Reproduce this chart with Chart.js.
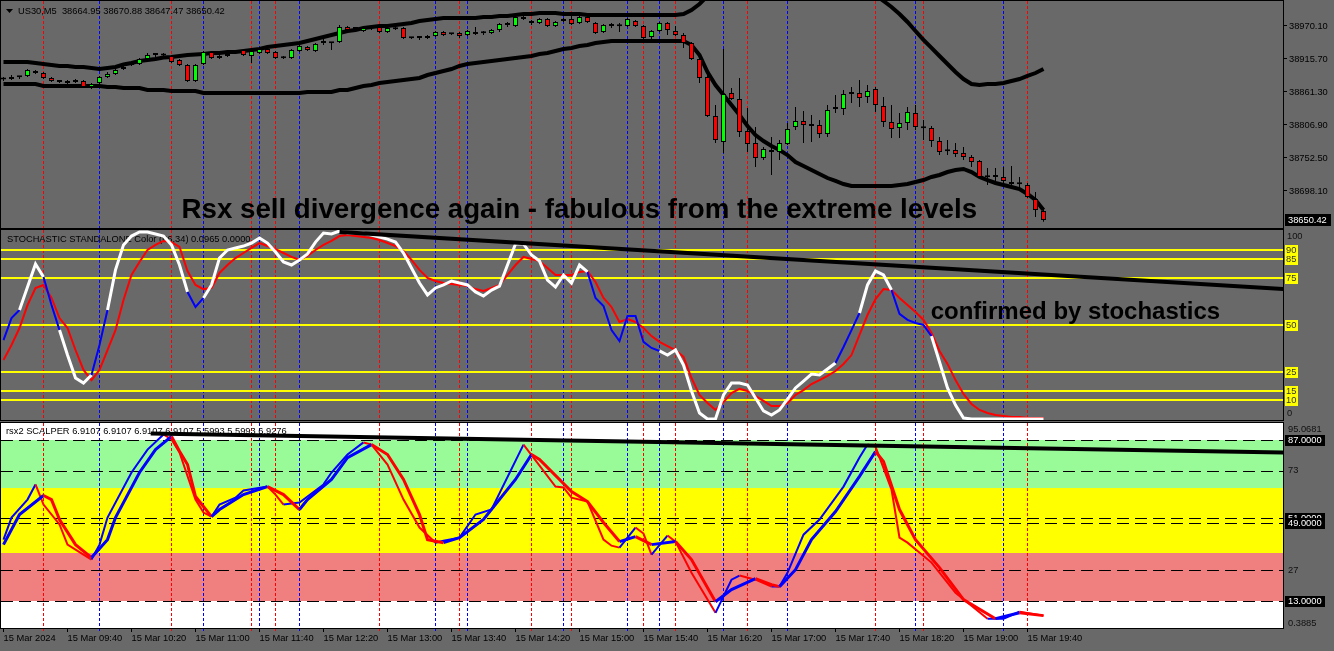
<!DOCTYPE html>
<html><head><meta charset="utf-8">
<script src="https://cdn.jsdelivr.net/npm/chart.js@4.4.1/dist/chart.umd.min.js"></script>
<style>
html,body{margin:0;padding:0;background:#696969;width:1334px;height:651px;overflow:hidden;}
.p{position:absolute;left:0;width:1334px;}
#a{top:0;height:229px;} #b{top:229px;height:192px;} #c{top:421px;height:230px;}
</style></head><body>
<div class="p" id="a"><canvas id="ca"></canvas></div>
<div class="p" id="b"><canvas id="cb"></canvas></div>
<div class="p" id="c"><canvas id="cc"></canvas></div>
<script>
// ---------------- DATA ----------------
const symbolTitle = "US30,M5  38664.95 38670.88 38647.47 38650.42";
const stochTitle = "STOCHASTIC STANDALONE Color (66,34) 0.0965 0.0000";
const rsxTitle = "rsx2 SCALPER 6.9107 6.9107 6.9107 6.9107 5.5993 5.5993 6.9276";
const note1 = "Rsx sell divergence again - fabulous from the extreme levels";
const note2 = "confirmed by stochastics";

const timeLabelIdx = [0,8,16,24,32,40,48,56,64,72,80,88,96,104,112,120,128];
const timeLabels = ["15 Mar 2024","15 Mar 09:40","15 Mar 10:20","15 Mar 11:00","15 Mar 11:40","15 Mar 12:20","15 Mar 13:00","15 Mar 13:40","15 Mar 14:20","15 Mar 15:00","15 Mar 15:40","15 Mar 16:20","15 Mar 17:00","15 Mar 17:40","15 Mar 18:20","15 Mar 19:00","15 Mar 19:40"];

const open = [
38882.7,38882.7,38886.0,38887.7,38895.9,38892.6,38884.4,38879.4,38876.1,38877.8,
38879.4,38869.5,38876.1,38886.0,38891.0,38899.2,38905.8,38907.5,38915.7,38922.3,
38921.5,38920.7,38914.1,38905.8,38879.4,38907.5,38927.2,38917.4,38920.7,38925.6,
38930.5,38920.7,38925.6,38932.2,38927.2,38917.4,38917.4,38928.9,38935.5,38928.9,
38942.1,38942.1,38943.8,38968.5,38965.2,38961.9,38966.8,38968.5,38960.2,38965.2,
38966.8,38950.4,38950.4,38950.4,38953.7,38960.2,38957.0,38958.6,38955.3,38960.2,
38958.6,38958.6,38963.5,38971.8,38970.1,38984.9,38978.3,38975.1,38981.6,38970.1,
38978.3,38981.6,38975.1,38984.9,38975.1,38960.2,38970.1,38970.1,38970.1,38978.3,
38970.1,38952.0,38961.9,38975.1,38961.9,38955.3,38942.1,38915.7,38886.0,38821.7,
38778.9,38859.6,38849.8,38797.0,38777.2,38752.5,38765.7,38762.4,38775.6,38803.6,
38813.5,38808.5,38806.9,38792.1,38833.3,38833.3,38858.0,38859.6,38853.1,38866.2,
38838.2,38811.8,38802.0,38810.2,38826.7,38802.0,38802.0,38780.5,38764.0,38765.7,
38760.7,38754.2,38747.6,38721.2,38721.2,38721.2,38712.9,38709.6,38708.0,38684.9,
38664.95];
const high = [
38886.0,38889.3,38887.7,38899.2,38897.6,38894.3,38886.0,38881.1,38881.1,38882.7,
38881.1,38876.1,38887.7,38894.3,38899.2,38905.8,38910.8,38917.4,38925.6,38925.6,
38925.6,38922.3,38915.7,38907.5,38907.5,38928.9,38928.9,38922.3,38925.6,38930.5,
38932.2,38930.5,38933.9,38935.5,38928.9,38920.7,38932.2,38938.8,38937.2,38942.1,
38950.4,38943.8,38971.8,38970.1,38966.8,38968.5,38968.5,38970.1,38968.5,38971.8,
38968.5,38952.0,38953.7,38955.3,38961.9,38961.9,38958.6,38960.2,38963.5,38968.5,
38961.9,38965.2,38975.1,38976.7,38986.6,38986.6,38980.0,38983.3,38983.3,38978.3,
38983.3,38986.6,38988.2,38988.2,38976.7,38973.4,38975.1,38975.1,38983.3,38980.0,
38971.8,38963.5,38976.7,38976.7,38970.1,38958.6,38943.8,38917.4,38894.3,38839.9,
38932.2,38867.9,38884.4,38834.9,38803.6,38770.6,38787.1,38782.2,38810.2,38836.6,
38830.0,38823.4,38815.1,38839.9,38856.4,38864.6,38869.5,38881.1,38872.8,38869.5,
38853.1,38839.9,38826.7,38836.6,38839.9,38815.1,38805.3,38787.1,38782.2,38777.2,
38770.6,38757.4,38749.2,38736.0,38736.0,38737.7,38739.3,38721.2,38711.3,38696.5,
38670.88];
const low = [
38879.4,38881.1,38882.7,38886.0,38891.0,38882.7,38877.8,38876.1,38874.5,38876.1,
38867.9,38866.2,38874.5,38884.4,38889.3,38897.6,38904.2,38905.8,38914.1,38919.0,
38919.0,38909.1,38904.2,38877.8,38877.8,38905.8,38915.7,38915.7,38919.0,38924.0,
38920.7,38909.1,38924.0,38924.0,38915.7,38915.7,38915.7,38927.2,38928.9,38927.2,
38938.8,38930.5,38942.1,38961.9,38963.5,38960.2,38963.5,38958.6,38958.6,38963.5,
38948.7,38948.7,38947.1,38948.7,38952.0,38953.7,38955.3,38950.4,38953.7,38955.3,
38955.3,38957.0,38960.2,38968.5,38968.5,38980.0,38971.8,38973.4,38968.5,38968.5,
38976.7,38971.8,38973.4,38975.1,38957.0,38958.6,38966.8,38960.2,38968.5,38968.5,
38947.1,38947.1,38960.2,38955.3,38953.7,38933.9,38914.1,38876.1,38820.1,38777.2,
38760.7,38848.1,38787.1,38762.4,38737.7,38749.2,38724.5,38749.2,38773.9,38798.7,
38777.2,38778.9,38785.5,38787.1,38826.7,38823.4,38843.2,38836.6,38843.2,38828.3,
38803.6,38785.5,38785.5,38798.7,38798.7,38782.2,38770.6,38757.4,38757.4,38754.2,
38749.2,38737.7,38719.5,38708.0,38712.9,38708.0,38704.7,38703.1,38686.6,38655.2,
38647.47];
const close = [
38882.0,38886.0,38885.6,38897.6,38892.6,38884.4,38879.4,38877.8,38879.4,38881.1,
38869.5,38874.5,38886.0,38891.0,38897.6,38902.5,38909.1,38915.7,38922.3,38922.8,
38922.0,38910.8,38905.8,38879.4,38905.8,38927.2,38917.4,38920.7,38924.0,38928.9,
38922.3,38928.9,38932.2,38925.6,38917.4,38917.0,38930.5,38937.2,38930.5,38940.5,
38942.5,38941.7,38968.5,38963.5,38965.6,38966.8,38966.4,38960.2,38966.8,38964.8,
38950.4,38950.0,38950.8,38953.7,38960.2,38955.3,38956.6,38953.7,38961.9,38957.0,
38958.2,38963.5,38973.4,38972.2,38984.9,38981.6,38975.1,38981.6,38970.1,38976.7,
38981.6,38973.4,38984.9,38976.7,38958.6,38971.8,38970.5,38969.7,38981.6,38970.1,
38950.4,38961.9,38975.1,38963.5,38955.3,38942.1,38915.7,38884.4,38821.7,38782.2,
38858.0,38849.8,38795.4,38775.6,38752.5,38767.3,38762.4,38777.2,38800.3,38813.5,
38806.9,38805.3,38792.1,38831.6,38833.7,38858.0,38858.4,38851.4,38862.9,38839.9,
38811.8,38800.3,38810.2,38828.3,38803.6,38801.6,38780.5,38762.4,38763.6,38759.1,
38754.2,38745.9,38721.2,38720.8,38721.6,38714.6,38709.6,38709.2,38688.2,38666.8,
38650.42];
const upperBand = [
38910.8,38910.8,38910.8,38910.8,38909.1,38907.5,38905.8,38904.2,38904.2,38902.5,
38902.5,38900.9,38899.2,38900.9,38902.5,38906.6,38909.1,38912.4,38914.1,38915.7,
38918.2,38919.0,38920.7,38922.3,38923.1,38924.0,38925.6,38925.6,38927.2,38927.2,
38928.9,38930.5,38932.2,38935.5,38937.2,38938.8,38940.5,38942.1,38945.4,38948.7,
38952.0,38955.3,38958.6,38961.9,38963.5,38966.8,38968.5,38970.1,38970.1,38971.8,
38973.4,38975.1,38978.3,38980.0,38981.6,38983.3,38983.3,38983.3,38983.3,38983.3,
38984.9,38984.9,38986.6,38986.6,38988.2,38989.9,38989.9,38991.5,38991.5,38991.5,
38989.9,38989.9,38989.9,38988.2,38988.2,38988.2,38988.2,38988.2,38988.2,38988.2,
38988.2,38988.2,38988.2,38988.2,38988.2,38989.9,38996.5,39006.4,39019.6,39032.7,
39045.9,39059.1,39072.3,39085.5,39098.7,39108.6,39118.5,39125.1,39128.4,39128.4,
39125.1,39118.5,39108.6,39098.7,39085.5,39072.3,39059.1,39045.9,39032.7,39021.2,
39011.3,39001.4,38989.9,38976.7,38961.9,38947.1,38933.9,38920.7,38907.5,38894.3,
38882.7,38874.5,38872.8,38874.5,38874.5,38876.1,38879.4,38882.7,38887.7,38892.6,
38899.2];
const lowerBand = [
38874.5,38874.5,38874.5,38874.5,38874.5,38871.2,38871.2,38871.2,38871.2,38871.2,
38871.2,38871.2,38871.2,38869.5,38869.5,38867.9,38867.9,38867.9,38864.6,38864.6,
38864.6,38862.9,38862.9,38862.9,38862.9,38859.6,38859.6,38859.6,38859.6,38859.6,
38859.6,38859.6,38859.6,38859.6,38859.6,38859.6,38859.6,38859.6,38861.3,38861.3,
38861.3,38861.3,38864.6,38864.6,38867.9,38871.2,38872.8,38876.1,38877.8,38879.4,
38881.1,38882.7,38884.4,38889.3,38892.6,38895.9,38899.2,38904.2,38907.5,38909.1,
38910.8,38912.4,38914.1,38915.7,38917.4,38919.0,38920.7,38924.0,38925.6,38928.9,
38932.2,38933.9,38937.2,38938.8,38942.1,38943.8,38945.4,38945.4,38945.4,38945.4,
38945.4,38945.4,38945.4,38945.4,38945.4,38945.4,38938.8,38922.3,38894.3,38872.8,
38856.4,38839.9,38823.4,38805.3,38790.4,38780.5,38772.3,38765.7,38757.4,38745.9,
38739.3,38732.7,38726.1,38719.5,38714.6,38709.6,38706.3,38706.3,38706.3,38706.3,
38706.3,38706.3,38708.0,38709.6,38712.9,38716.2,38721.2,38724.5,38729.4,38732.7,
38734.4,38729.4,38721.2,38716.2,38711.3,38708.0,38704.7,38701.4,38693.2,38683.3,
38666.8];
const priceTicks = [38970.10,38915.70,38861.30,38806.90,38752.50,38698.10];

const stochMain = [
42.0,53.7,58.0,70.2,82.4,75.5,60.6,47.3,34.0,21.8,
19.1,23.4,39.4,58.0,79.3,92.6,97.3,99.5,99.5,98.4,
97.3,92.6,81.9,67.6,59.6,64.4,71.3,85.6,89.9,91.0,
92.0,93.6,96.3,93.6,88.8,83.5,81.9,84.6,87.8,94.1,
98.9,98.4,100,98.9,98.9,98.9,97.9,96.8,95.7,94.1,
88.3,80.3,72.3,66.0,69.7,71.3,73.4,72.3,71.3,67.6,
65.4,68.6,70.7,81.9,93.1,93.1,87.2,84.0,73.9,70.2,
76.6,72.3,81.9,78.2,64.4,60.1,47.3,41.5,54.8,54.8,
41.0,37.8,36.2,34.0,36.7,28.7,14.9,3.2,0,0,
12.8,19.1,19.1,18.1,11.2,4.3,2.1,4.8,10.6,16.5,
20.2,23.9,23.4,26.6,29.8,38.3,47.3,56.4,71.3,78.7,
76.6,68.6,55.9,52.7,51.1,50.0,44.1,30.3,16.5,7.4,
0.5,0,0,0,0,0,0,0,0,0,
0];
const stochSignal = [
31.4,39.4,48.4,60.6,69.7,71.3,64.4,53.7,48.4,36.7,
26.1,20.7,26.1,36.7,47.3,63.3,76.6,83.5,89.9,92.6,
94.7,94.1,91.5,78.7,71.3,69.1,69.7,77.7,81.9,85.6,
88.3,91.0,93.6,92.0,90.4,88.3,86.2,84.6,86.7,89.9,
92.6,94.7,97.3,97.9,97.3,96.8,96.3,95.2,93.6,92.0,
89.4,84.6,79.3,75.0,73.4,72.3,71.8,71.3,70.7,69.1,
68.1,69.7,71.3,76.6,81.9,86.2,85.1,84.0,80.3,76.6,
76.6,76.6,78.2,78.7,72.9,64.4,59.6,51.6,53.2,51.6,
48.4,44.1,41.0,38.8,36.7,33.0,21.8,12.8,8.5,4.8,
9.0,13.8,16.0,14.9,12.2,9.6,6.9,6.9,8.5,12.8,
15.4,18.6,20.7,22.9,25.5,29.3,34.0,44.7,55.3,63.8,
69.1,68.6,64.4,60.6,56.9,52.7,45.7,36.2,29.3,20.7,
13.3,8.0,4.8,3.2,2.1,1.6,1.1,1.1,0.5,0.5,
0.5];
const stochBlueRanges = [[0,2],[5,7],[11,13],[23,25],[73,82],[104,107],[111,116]];
const stochLevels = [90,85,75,50,25,15,10];
const stochAxisLabels = [100,0];
const stochTrendX = [42,160];
const stochTrendY = [99.5,69.1];

const rsxFastX = [0,1,3,4,5,7,8,10,11,12,13,16,18,20,21,22,24,25,26,27,29,30,33,34,35,37,40,41,43,45,46,48,50,52,54,55,57,59,61,65,69,70,71,73,75,76,77,79,80,81,83,84,86,89,91,92,94,96,97,98,100,102,105,107,108,109,111,112,113,116,119,123,125,127,130];
const rsxFastY = [41.2,51.4,59.7,66.7,57.4,48.2,38.9,34.3,32.0,38.9,51.4,72.2,82.8,89.8,87.5,81.5,59.7,53.7,51.8,57.4,60.6,63.9,65.7,62.0,57.4,58.3,66.7,72.2,80.5,86.1,85.1,75.9,59.7,46.8,39.8,40.7,42.1,52.8,55.1,85.1,65.7,65.3,60.6,58.8,41.2,38.4,37.5,46.8,44.0,34.3,43.1,40.3,25.9,7.4,22.7,24.6,22.7,19.5,19.5,25.9,43.5,50.5,65.7,79.1,85.1,84.2,64.3,42.1,39.8,30.6,16.7,4.7,4.7,7.9,6.1];
const rsxSlowX = [0,2,5,6,7,9,11,13,14,17,19,21,22,23,24,26,27,30,33,35,37,38,41,43,46,48,50,52,53,55,57,60,64,66,67,71,73,75,77,79,81,84,86,89,91,94,96,97,99,101,104,107,109,110,112,114,117,120,124,127,130];
const rsxSlowY = [38.9,52.8,61.6,59.7,50.5,38.9,32.9,41.2,51.4,72.2,82.8,88.9,82.0,75.9,61.1,51.8,55.1,62.0,65.7,62.0,55.1,59.7,69.0,79.1,85.1,80.5,69.0,52.8,41.2,39.8,42.1,50.5,69.0,80.5,78.2,63.4,58.8,49.1,40.3,42.6,38.9,40.3,32.0,12.5,18.1,23.2,20.4,19.5,27.3,41.2,54.2,70.4,81.9,77.3,55.1,41.2,28.3,13.5,4.7,7.4,6.1];
const rsxZoneEdges = [87,65,35,13];
const rsxDashLevels = [87,73,51,49,27,13];
const rsxAxisPlain = ["95.0681","73","27","0.3885"];
const rsxAxisBoxed = [87,51,49,13];
const rsxRange = [0.3885,95.0681];
const rsxTrendX = [18.4,160];
const rsxTrendY = [90.2,81.4];

const redLines = [5,21,31,34,47,57,66,71,80,84,93,109,115,128];
const blueLines = [12,25,32,37,54,58,70,78,82,90,98,114,125];

// ---------------- STYLE / LAYOUT ----------------
const FONT = "Liberation Sans";
const SMALL = '9.3px ' + FONT;
Chart.defaults.font.family = FONT;
Chart.defaults.font.size = 9.3;
const xMin = -0.3125, xMax = 159.9375;
const idx = open.map((_, i) => i);
const AXW = 51;

function xScale(display) {
  return {type:'linear', min:xMin, max:xMax, display, offset:false, grid:{display:false}, border:{display:false}};
}
function yAfterFit(s){ s.width = AXW; s.paddingTop = 0; s.paddingBottom = 0; }
function baseOptions(pad) {
  return {responsive:true, maintainAspectRatio:false, animation:false, devicePixelRatio:1, events:[],
    layout:{padding:pad}, plugins:{legend:{display:false}, tooltip:{enabled:false}}};
}
function drawVLines(chart, extra) {
  const {ctx, chartArea:a, scales:{x}} = chart;
  ctx.save(); ctx.lineWidth = 1; ctx.setLineDash([3,2]);
  [[redLines,'#ff0000'],[blueLines,'#0000ff']].forEach(([arr,c]) => {
    ctx.strokeStyle = c;
    arr.forEach(i => { const px = Math.round(x.getPixelForValue(i) - 0.5) + 0.5;
      ctx.beginPath(); ctx.moveTo(px, a.top); ctx.lineTo(px, a.bottom + extra); ctx.stroke(); });
  });
  ctx.restore();
}
function frame(chart) {
  const {ctx, chartArea:a} = chart;
  ctx.save(); ctx.strokeStyle = '#000'; ctx.lineWidth = 1; ctx.setLineDash([]);
  ctx.strokeRect(a.left - 0.5, a.top - 0.5, a.right - a.left + 1, a.bottom - a.top + 1);
  ctx.restore();
}
function text(ctx, s, x, y, font, color, base) {
  ctx.font = font; ctx.fillStyle = color; ctx.textAlign = 'left'; ctx.textBaseline = base || 'middle';
  ctx.fillText(s, x, y);
}

// ---------------- PRICE PANEL ----------------
new Chart(document.getElementById('ca'), {
  type:'bar',
  data:{datasets:[
    {type:'bar', data: idx.map(i => ({x:i, y:[open[i], close[i]]})),
     backgroundColor: idx.map(i => close[i] > open[i] ? '#00ff00' : '#ff0000'),
     borderColor:'#000', borderWidth:1, borderSkipped:false, barThickness:5, minBarLength:2,
     inflateAmount:0, grouped:false, order:1},
    {type:'bar', data: idx.map(i => ({x:i, y:[low[i], high[i]]})),
     backgroundColor:'#000', borderWidth:0, barThickness:1, inflateAmount:0, grouped:false, order:2},
    {type:'line', data: idx.map(i => ({x:i, y:upperBand[i]})), borderColor:'#000', borderWidth:4,
     pointRadius:0, tension:0, clip:0, order:3},
    {type:'line', data: idx.map(i => ({x:i, y:lowerBand[i]})), borderColor:'#000', borderWidth:4,
     pointRadius:0, tension:0, clip:0, order:3}
  ]},
  options: Object.assign(baseOptions({left:1, top:1, right:0, bottom:1}), {
    scales:{
      x: xScale(false),
      y: {type:'linear', position:'right', min:38637.10, max:39011.31, beginAtZero:false,
          afterFit: yAfterFit,
          afterBuildTicks: s => { s.ticks = priceTicks.map(v => ({value:v})); },
          ticks:{autoSkip:false, padding:2, color:'#000', font:{size:9.3}, callback: v => Number(v).toFixed(2)},
          grid:{drawOnChartArea:false, drawTicks:true, tickLength:4, color:'#000'},
          border:{display:true, color:'#000'}}
    }
  }),
  plugins:[{
    id:'pricePanel',
    beforeDraw(chart){ drawVLines(chart, 0); },
    afterDraw(chart){
      const {ctx, chartArea:a, scales:{x, y}} = chart;
      ctx.save();
      ctx.fillStyle = '#000'; ctx.beginPath();
      ctx.moveTo(a.left + 5, a.top + 8); ctx.lineTo(a.left + 12, a.top + 8); ctx.lineTo(a.left + 8.5, a.top + 12); ctx.closePath(); ctx.fill();
      text(ctx, symbolTitle, a.left + 17, a.top + 10, SMALL, '#000');
      text(ctx, note1, x.getPixelForValue(22.25), y.getPixelForValue(38652.8), 'bold 27.7px ' + FONT, '#000', 'alphabetic');
      const last = close[close.length - 1];
      const py = Math.round(y.getPixelForValue(last));
      ctx.fillStyle = '#000'; ctx.fillRect(a.right + 2, py - 6, 46, 12);
      text(ctx, last.toFixed(2), a.right + 5, py + 0.5, SMALL, '#fff');
      ctx.restore();
      frame(chart);
    }
  }]
});

// ---------------- STOCHASTIC PANEL ----------------
const inBlue = i => stochBlueRanges.some(([s, e]) => i >= s && i < e);
new Chart(document.getElementById('cb'), {
  type:'line',
  data:{datasets:[
    {data: stochTrendX.map((v, k) => ({x:v, y:stochTrendY[k]})), borderColor:'#000', borderWidth:4, pointRadius:0, order:0},
    {data: idx.map(i => ({x:i, y:stochMain[i]})), borderColor:'#ffffff', borderWidth:3, pointRadius:0, tension:0, order:1,
     segment:{borderColor: c => inBlue(c.p0DataIndex) ? '#0000ff' : undefined,
              borderWidth: c => inBlue(c.p0DataIndex) ? 2 : undefined}},
    {data: idx.map(i => ({x:i, y:stochSignal[i]})), borderColor:'#ff0000', borderWidth:2, pointRadius:0, tension:0, order:2}
  ]},
  options: Object.assign(baseOptions({left:1, top:1, right:0, bottom:1}), {
    scales:{
      x: xScale(false),
      y: {type:'linear', position:'right', min:-0.53, max:100.53, afterFit: yAfterFit,
          ticks:{display:false}, grid:{display:false}, border:{display:true, color:'#000'}}
    }
  }),
  plugins:[{
    id:'stochPanel',
    beforeDraw(chart){
      drawVLines(chart, 0);
      const {ctx, chartArea:a, scales:{y}} = chart;
      ctx.save(); ctx.strokeStyle = '#ffff00'; ctx.lineWidth = 2;
      stochLevels.forEach(l => { const py = Math.round(y.getPixelForValue(l));
        ctx.beginPath(); ctx.moveTo(a.left, py); ctx.lineTo(a.right, py); ctx.stroke(); });
      ctx.restore();
    },
    beforeDatasetsDraw(chart){
      const {ctx, chartArea:a} = chart;
      text(ctx, stochTitle, a.left + 6, a.top + 9, SMALL, '#000');
    },
    afterDraw(chart){
      const {ctx, chartArea:a, scales:{x, y}} = chart;
      ctx.save();
      stochLevels.forEach(l => { const py = Math.round(y.getPixelForValue(l));
        ctx.fillStyle = '#ffff00'; ctx.fillRect(a.right + 2, py - 5, 13, 11);
        text(ctx, String(l), a.right + 3, py + 0.5, SMALL, '#333'); });
      text(ctx, String(stochAxisLabels[0]), a.right + 4, y.getPixelForValue(stochAxisLabels[0]) + 5, SMALL, '#111');
      text(ctx, String(stochAxisLabels[1]), a.right + 4, y.getPixelForValue(stochAxisLabels[1]) - 6, SMALL, '#111');
      text(ctx, note2, x.getPixelForValue(115.9), y.getPixelForValue(53.2), 'bold 24px ' + FONT, '#000', 'alphabetic');
      ctx.restore();
      frame(chart);
    }
  }]
});

// ---------------- RSX PANEL ----------------
const dirColor = c => c.p1.parsed.y >= c.p0.parsed.y ? '#0000ff' : '#ff0000';
const zoneColors = ['#98fb98','#ffff00','#f08080'];
new Chart(document.getElementById('cc'), {
  type:'line',
  data:{datasets:[
    {data: rsxTrendX.map((v, k) => ({x:v, y:rsxTrendY[k]})), borderColor:'#000', borderWidth:4, pointRadius:0, order:0},
    {data: rsxFastX.map((v, k) => ({x:v, y:rsxFastY[k]})), borderColor:'#0000ff', borderWidth:2, pointRadius:0, tension:0, order:2,
     segment:{borderColor: dirColor}},
    {data: rsxSlowX.map((v, k) => ({x:v, y:rsxSlowY[k]})), borderColor:'#0000ff', borderWidth:3, pointRadius:0, tension:0, order:1,
     segment:{borderColor: dirColor}}
  ]},
  options: Object.assign(baseOptions({left:1, top:2, right:0, bottom:2}), {
    scales:{
      x: {type:'linear', min:xMin, max:xMax, display:true, offset:false, position:'bottom',
          afterBuildTicks: s => { s.ticks = timeLabelIdx.map(v => ({value:v})); },
          afterFit: s => { s.height = 21; s.paddingLeft = 0; s.paddingRight = 0; },
          ticks:{autoSkip:false, maxRotation:0, minRotation:0, align:'start', padding:1, color:'#000', font:{size:9.3},
                 callback: (v, i) => timeLabels[i]},
          grid:{drawOnChartArea:false, drawTicks:true, tickLength:4, color:'#000'},
          border:{display:true, color:'#000'}},
      y: {type:'linear', position:'right', min:rsxRange[0], max:rsxRange[1], afterFit: yAfterFit,
          ticks:{display:false}, grid:{display:false}, border:{display:true, color:'#000'}}
    }
  }),
  plugins:[{
    id:'rsxPanel',
    beforeDraw(chart){
      const {ctx, chartArea:a, scales:{y}} = chart;
      ctx.save();
      ctx.fillStyle = '#ffffff'; ctx.fillRect(a.left, a.top, a.right - a.left, a.bottom - a.top);
      for (let k = 0; k < rsxZoneEdges.length - 1; k++) {
        const t = Math.round(y.getPixelForValue(rsxZoneEdges[k])), b = Math.round(y.getPixelForValue(rsxZoneEdges[k + 1]));
        ctx.fillStyle = zoneColors[k]; ctx.fillRect(a.left, t, a.right - a.left, b - t);
      }
      ctx.restore();
      drawVLines(chart, 4);
      ctx.save(); ctx.strokeStyle = '#000'; ctx.lineWidth = 1; ctx.setLineDash([12,6]);
      rsxDashLevels.forEach(l => { const py = Math.round(y.getPixelForValue(l)) + 0.5;
        ctx.beginPath(); ctx.moveTo(a.left, py); ctx.lineTo(a.right, py); ctx.stroke(); });
      ctx.restore();
      text(ctx, rsxTitle, a.left + 5, a.top + 8, SMALL, '#000');
    },
    afterDraw(chart){
      const {ctx, chartArea:a, scales:{y}} = chart;
      ctx.save();
      text(ctx, rsxAxisPlain[0], a.right + 5, y.getPixelForValue(rsxRange[1]) + 6, SMALL, '#111');
      text(ctx, rsxAxisPlain[1], a.right + 5, y.getPixelForValue(73), SMALL, '#111');
      text(ctx, rsxAxisPlain[2], a.right + 5, y.getPixelForValue(27), SMALL, '#111');
      text(ctx, rsxAxisPlain[3], a.right + 5, y.getPixelForValue(rsxRange[0]) - 5, SMALL, '#111');
      rsxAxisBoxed.forEach(v => { const py = Math.round(y.getPixelForValue(v));
        ctx.fillStyle = '#000'; ctx.fillRect(a.right + 2, py - 5, 40, 11);
        text(ctx, v.toFixed(4), a.right + 5, py + 0.5, SMALL, '#fff'); });
      ctx.restore();
      frame(chart);
    }
  }]
});
</script>
</body></html>
